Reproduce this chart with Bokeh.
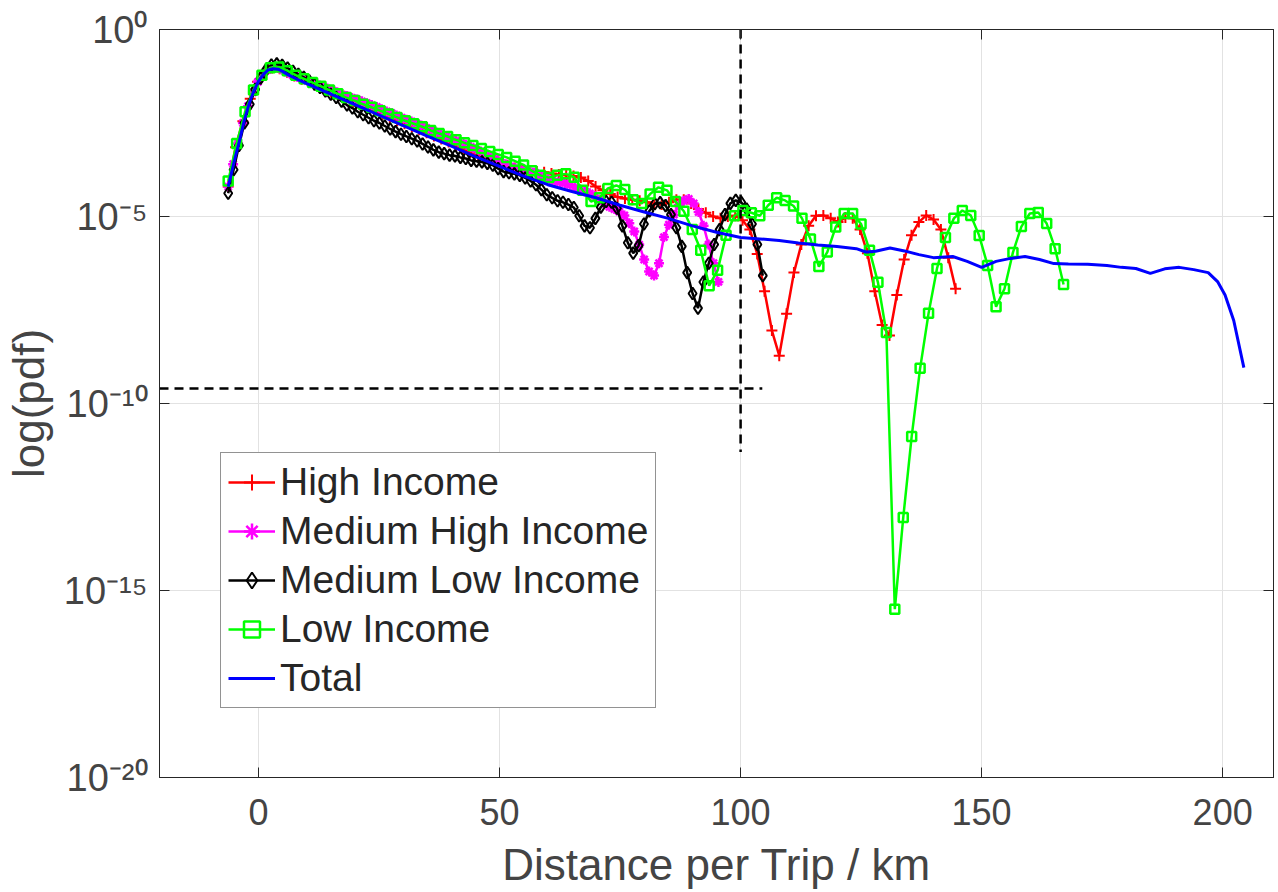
import numpy as np
from bokeh.plotting import figure
from bokeh.models import (Range1d, FixedTicker, LinearAxis, LogAxis,
                          Legend, LegendItem)
from bokeh.embed import file_html
from bokeh.resources import INLINE

# ---------------- data (log10 of pdf) ----------------
x_high = np.linspace(-6.3, 144.6, 100)
log_high = [-4.2, -3.15, -2.45, -1.85, -1.4, -1.15, -1.03, -1.05, -1.14, -1.24,
            -1.33, -1.42, -1.5, -1.59, -1.68, -1.77, -1.85, -1.93, -2.02, -2.1,
            -2.18, -2.27, -2.36, -2.44, -2.52, -2.6, -2.68, -2.76, -2.85, -2.93,
            -3.01, -3.1, -3.2, -3.28, -3.36, -3.42, -3.5, -3.57, -3.63, -3.7,
            -3.74, -3.77, -3.8, -3.82, -3.85, -3.88, -3.9, -3.92, -3.96, -4.05,
            -4.2, -4.3, -4.4, -4.48, -4.52, -4.55, -4.58, -4.62, -4.66, -4.68,
            -4.62, -4.55, -4.55, -4.65, -4.8, -4.9, -5.0, -5.05, -5.0, -4.98,
            -5.1, -5.35, -6.0, -7.0, -8.05, -8.72, -7.6, -6.5, -5.75, -5.25,
            -4.98, -4.97, -5.05, -5.15, -5.03, -5.05, -5.35, -5.98, -7.0, -7.9,
            -8.18, -7.1, -6.15, -5.5, -5.15, -4.97, -5.08, -5.35, -6.1, -6.93]

x_medhigh = np.linspace(-6.3, 95.4, 100)
log_medhigh = [-4.2, -3.6, -3.05, -2.5, -2.05, -1.68, -1.4, -1.2, -1.08, -1.02,
               -1.03, -1.08, -1.15, -1.22, -1.27, -1.32, -1.37, -1.42, -1.47, -1.52,
               -1.58, -1.63, -1.68, -1.74, -1.78, -1.83, -1.87, -1.92, -1.97, -2.02,
               -2.07, -2.13, -2.19, -2.24, -2.3, -2.36, -2.41, -2.46, -2.52, -2.57,
               -2.63, -2.69, -2.75, -2.8, -2.86, -2.92, -2.97, -3.03, -3.08, -3.14,
               -3.2, -3.26, -3.33, -3.4, -3.45, -3.55, -3.6, -3.66, -3.71, -3.75,
               -3.78, -3.8, -3.83, -3.9, -3.98, -4.03, -4.06, -4.08, -4.11, -4.15,
               -4.22, -4.28, -4.33, -4.38, -4.45, -4.55, -4.66, -4.74, -4.8, -4.87,
               -4.97, -5.18, -5.4, -5.75, -6.15, -6.47, -6.58, -6.25, -5.55, -5.22,
               -4.95, -4.7, -4.58, -4.53, -4.65, -4.88, -5.25, -5.75, -6.25, -6.75]

x_medlow = np.linspace(-6.3, 104.6, 100)
log_medlow = [-4.38, -3.75, -3.1, -2.5, -2.0, -1.6, -1.3, -1.08, -0.95, -0.92,
              -0.96, -1.03, -1.12, -1.2, -1.28, -1.37, -1.46, -1.55, -1.64, -1.73,
              -1.82, -1.92, -2.02, -2.1, -2.2, -2.28, -2.36, -2.44, -2.5, -2.58,
              -2.66, -2.73, -2.8, -2.86, -2.92, -2.98, -3.06, -3.14, -3.22, -3.28,
              -3.32, -3.36, -3.38, -3.42, -3.45, -3.5, -3.52, -3.54, -3.58, -3.63,
              -3.72, -3.8, -3.83, -3.86, -3.9, -3.97, -4.05, -4.15, -4.28, -4.42,
              -4.5, -4.58, -4.62, -4.68, -4.76, -4.98, -5.25, -5.3, -5.05, -4.75,
              -4.6, -4.62, -4.78, -5.25, -5.7, -5.98, -5.78, -5.2, -4.85, -4.66,
              -4.63, -4.71, -4.95, -5.3, -5.8, -6.5, -7.06, -7.45, -6.75, -6.25,
              -5.75, -5.35, -4.95, -4.65, -4.57, -4.62, -4.8, -5.2, -5.75, -6.58]

x_low = np.linspace(-6.3, 167.0, 100)
log_low = [-4.05, -3.05, -2.2, -1.62, -1.22, -1.02, -1.0, -1.1, -1.22, -1.32,
           -1.42, -1.52, -1.62, -1.72, -1.82, -1.9, -2.0, -2.08, -2.17, -2.26,
           -2.35, -2.44, -2.52, -2.6, -2.7, -2.78, -2.86, -2.95, -3.03, -3.1,
           -3.18, -3.26, -3.34, -3.42, -3.52, -3.62, -3.78, -3.9, -3.96, -3.9,
           -3.86, -3.95, -4.3, -4.6, -4.5, -4.25, -4.17, -4.28, -4.55, -4.65,
           -4.4, -4.22, -4.3, -4.6, -4.86, -5.35, -5.9, -6.85, -6.44, -5.5,
           -4.98, -4.84, -4.9, -4.98, -4.7, -4.5, -4.57, -4.72, -5.05, -5.6,
           -6.34, -5.95, -5.28, -4.92, -4.92, -5.2, -5.9, -6.76, -8.1, -15.5,
           -13.05, -10.88, -9.06, -7.59, -6.39, -5.56, -5.05, -4.84, -4.97, -5.51,
           -6.31, -7.41, -6.93, -5.96, -5.27, -4.92, -4.89, -5.19, -5.86, -6.82]

x_total = [-6.3, -5, -4, -3, -2, -1, 0, 1, 2, 3,
           4, 5, 6, 8, 10, 15, 20, 25, 30, 35,
           40, 45, 50, 55, 60, 65, 70, 75, 80, 85,
           90, 95, 100, 104, 108, 112, 116, 120, 124, 126,
           128, 131, 134, 137, 140, 144, 147, 150, 153, 156,
           159, 162, 165, 168, 172, 176, 179, 182, 185, 188,
           191, 194, 197, 199, 200.5, 202.3, 204.4]
log_total = [-4.2, -3.5, -3.0, -2.45, -2.0, -1.65, -1.38, -1.2, -1.08, -1.05,
             -1.06, -1.12, -1.2, -1.33, -1.45, -1.73, -2.01, -2.29, -2.57, -2.85,
             -3.12, -3.40, -3.66, -3.92, -4.15, -4.33, -4.5, -4.7, -4.88, -5.05,
             -5.25, -5.42, -5.56, -5.6, -5.64, -5.71, -5.76, -5.80, -5.86, -5.95,
             -5.93, -5.84, -5.92, -6.02, -6.10, -6.07, -6.2, -6.36, -6.2, -6.12,
             -6.07, -6.15, -6.26, -6.27, -6.28, -6.31, -6.36, -6.39, -6.52, -6.4,
             -6.36, -6.42, -6.5, -6.75, -7.1, -7.78, -9.04]

series_names = ["High Income", "Medium High Income", "Medium Low Income",
                "Low Income", "Total"]

# reference (dashed) lines
ref_vline_x = 100
ref_vline_y = [0.0, -11.3]          # log10
ref_hline_log = -9.6                # log10
ref_hline_x = [-20.55, 104.5]

x_ticks = [0, 50, 100, 150, 200]
y_exponents = [0, -5, -10, -15, -20]
y_tick_labels = ["10\u2070", "10\u207b\u2075", "10\u207b\u00b9\u2070",
                 "10\u207b\u00b9\u2075", "10\u207b\u00b2\u2070"]
X_MIN, X_MAX = -20.55, 210.55

# ---------------- figure ----------------
FONT = "Liberation Sans"
AX_COL = "#262626"
TXT_COL = "#444444"

p = figure(width=1278, height=892, output_backend="svg", toolbar_location=None,
           y_axis_type="log", x_range=Range1d(X_MIN, X_MAX),
           y_range=Range1d(1e-20, 1.0),
           min_border_left=159, min_border_right=5, min_border_top=29,
           min_border_bottom=115)
p.background_fill_color = "white"
p.border_fill_color = "white"
p.outline_line_color = AX_COL
p.outline_line_width = 1

yt = [10.0 ** e for e in y_exponents]

# axes
p.xaxis.ticker = FixedTicker(ticks=x_ticks)
p.yaxis.ticker = FixedTicker(ticks=yt)
for ax in (p.xaxis[0], p.yaxis[0]):
    ax.major_tick_in = 10
    ax.major_tick_out = 0
    ax.minor_tick_line_color = None
    ax.axis_line_color = AX_COL
    ax.major_tick_line_color = AX_COL
    ax.axis_label_text_font = FONT
    ax.axis_label_text_font_style = "normal"
    ax.axis_label_text_color = TXT_COL
    ax.axis_label_text_font_size = "44px"
    ax.major_label_text_font = FONT
    ax.major_label_text_color = TXT_COL

p.xaxis.axis_label = "Distance per Trip / km"
p.xaxis.major_label_text_font_size = "36px"
p.xaxis.major_label_standoff = 21
p.xaxis.axis_label_standoff = 12

p.yaxis.axis_label = "log(pdf)"
p.yaxis.major_label_text_font_size = "38px"
p.yaxis.major_label_standoff = 12
p.yaxis.axis_label_standoff = 8
p.yaxis.major_label_overrides = {t: s for t, s in zip(yt, y_tick_labels)}

blank_x = {t: "" for t in x_ticks}
blank_y = {t: "" for t in yt}
top_ax = LinearAxis(ticker=FixedTicker(ticks=x_ticks), major_tick_in=10,
                    major_tick_out=0, minor_tick_line_color=None,
                    major_label_overrides=blank_x, major_label_standoff=0,
                    axis_line_color=AX_COL, major_tick_line_color=AX_COL)
right_ax = LogAxis(ticker=FixedTicker(ticks=yt), major_tick_in=10,
                   major_tick_out=0, minor_tick_line_color=None,
                   major_label_overrides=blank_y, major_label_standoff=0,
                   axis_line_color=AX_COL, major_tick_line_color=AX_COL)
p.add_layout(top_ax, "above")
p.add_layout(right_ax, "right")

# grid
p.xgrid.ticker = FixedTicker(ticks=x_ticks)
p.ygrid.ticker = FixedTicker(ticks=yt)
p.xgrid.grid_line_color = "#e2e2e2"
p.ygrid.grid_line_color = "#e2e2e2"
p.xgrid.grid_line_width = 1
p.ygrid.grid_line_width = 1

# ---------------- series ----------------
def pw(vals):
    return [10.0 ** v for v in vals]

items = []
LW = 2.5

l1 = p.line(x_high, pw(log_high), line_color="#ff0000", line_width=LW)
s1 = p.scatter(x_high, pw(log_high), marker="cross", size=11,
               line_color="#ff0000", line_width=2)
items.append(LegendItem(label=series_names[0], renderers=[l1, s1]))

l2 = p.line(x_medhigh, pw(log_medhigh), line_color="#ff00ff", line_width=LW)
s2 = p.scatter(x_medhigh, pw(log_medhigh), marker="asterisk", size=10,
               line_color="#ff00ff", line_width=2.5)
items.append(LegendItem(label=series_names[1], renderers=[l2, s2]))

l3 = p.line(x_medlow, pw(log_medlow), line_color="#000000", line_width=LW)
s3 = p.scatter(x_medlow, pw(log_medlow), marker="diamond", size=12,
               line_color="#000000", fill_color=None, line_width=2)
items.append(LegendItem(label=series_names[2], renderers=[l3, s3]))

l4 = p.line(x_low, pw(log_low), line_color="#00ff00", line_width=LW)
s4 = p.scatter(x_low, pw(log_low), marker="square", size=9,
               line_color="#00ff00", fill_color=None, line_width=2.5)
items.append(LegendItem(label=series_names[3], renderers=[l4, s4]))

l5 = p.line(x_total, pw(log_total), line_color="#0000ff", line_width=3)
items.append(LegendItem(label=series_names[4], renderers=[l5]))

# dashed reference lines
p.line([ref_vline_x, ref_vline_x], pw(ref_vline_y), line_color="black",
       line_width=2.5, line_dash="9 6")
p.line(ref_hline_x, pw([ref_hline_log, ref_hline_log]), line_color="black",
       line_width=2.5, line_dash="9 6")

legend = Legend(items=items, location=(61, 69))
legend.label_text_font = FONT
legend.label_text_font_size = "39px"
legend.label_text_color = AX_COL
legend.glyph_width = 47
legend.glyph_height = 40
legend.label_height = 40
legend.spacing = 5
legend.padding = 7
legend.margin = 0
legend.label_standoff = 5
legend.border_line_color = AX_COL
legend.border_line_width = 1
legend.background_fill_color = "white"
legend.background_fill_alpha = 1.0
p.add_layout(legend)

open("out.html", "w").write(file_html(p, INLINE))
